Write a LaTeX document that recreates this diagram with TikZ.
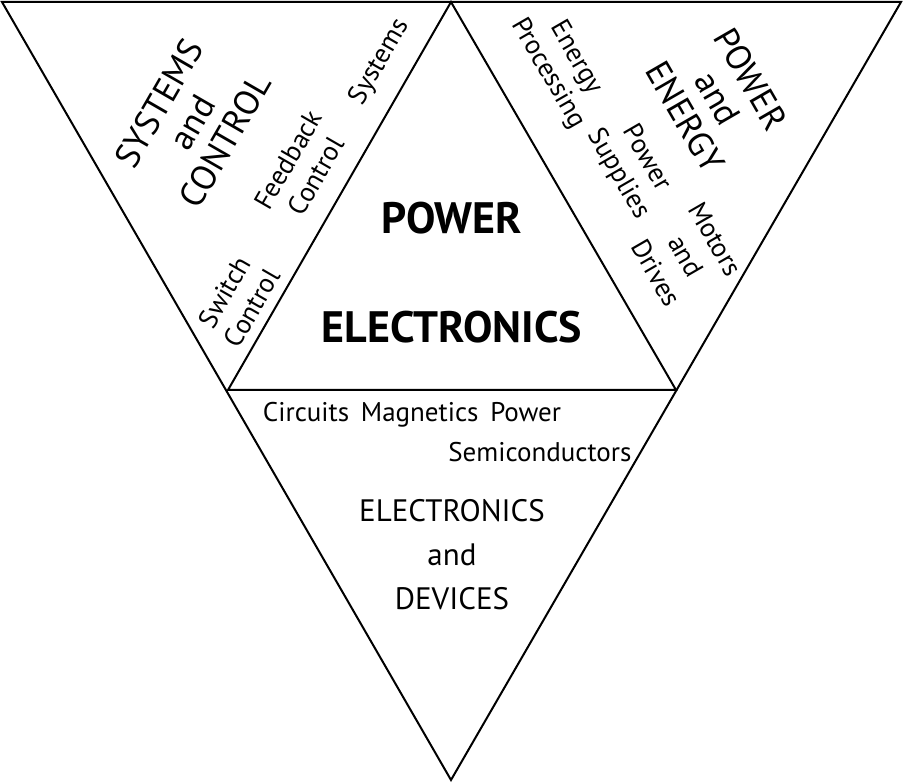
\documentclass[tikz,border=0pt]{standalone}
\usepackage{fontspec}
\setmainfont{PT Sans}
\begin{document}
\begin{tikzpicture}[x=1pt,y=-1pt,line join=miter,
  edge/.style={line width=2pt},
  small/.style={font=\fontsize{27}{32}\selectfont,align=center},
  big/.style={font=\fontsize{35}{38}\selectfont,align=center},
  core/.style={font=\fontsize{44}{48}\selectfont\bfseries,align=center}]
\useasboundingbox (0,0) rectangle (903,783);
% outer and inner triangles
\coordinate (tl) at (2,2);
\coordinate (tr) at (901,2);
\coordinate (bot) at (451,780);
\coordinate (top) at (451,2);
\coordinate (il) at (228,390);
\coordinate (ir) at (676,390);
\draw[edge] (tl) -- (tr) -- (bot) -- cycle;
\draw[edge] (top) -- (il) -- (ir) -- cycle;
% centre
\node[core] (pow) at (452,218) {POWER};
\node[core] (ele) at (452,327) {ELECTRONICS};
% systems and control
\node[big,rotate=60] (sys) at (192,122) {SYSTEMS\\and\\CONTROL};
\node[small,rotate=60] (fb) at (302,168) {Feedback\\Control};
\node[small,rotate=60] (sy) at (380,62) {Systems};
\node[small,rotate=60] (sw) at (238,300) {Switch\\Control};
% power and energy
\node[big,rotate=-60] (pe) at (718,98) {POWER\\and\\ENERGY};
\node[small,rotate=-60] (ep) at (562,66) {Energy\\Processing};
\node[small,rotate=-60] (ps) at (632,166) {Power\\Supplies};
\node[small,rotate=-60,font=\fontsize{27}{34}\selectfont] (md) at (686,256) {Motors\\and\\Drives};
% electronics and devices
\node[small] (cmp) at (412,415) {Circuits\, Magnetics\, Power};
\node[small,anchor=east] (sc) at (635,452) {Semiconductors};
\node[small,font=\fontsize{31}{44}\selectfont] (ed) at (452,555) {ELECTRONICS\\and\\DEVICES};
\end{tikzpicture}
\end{document}
